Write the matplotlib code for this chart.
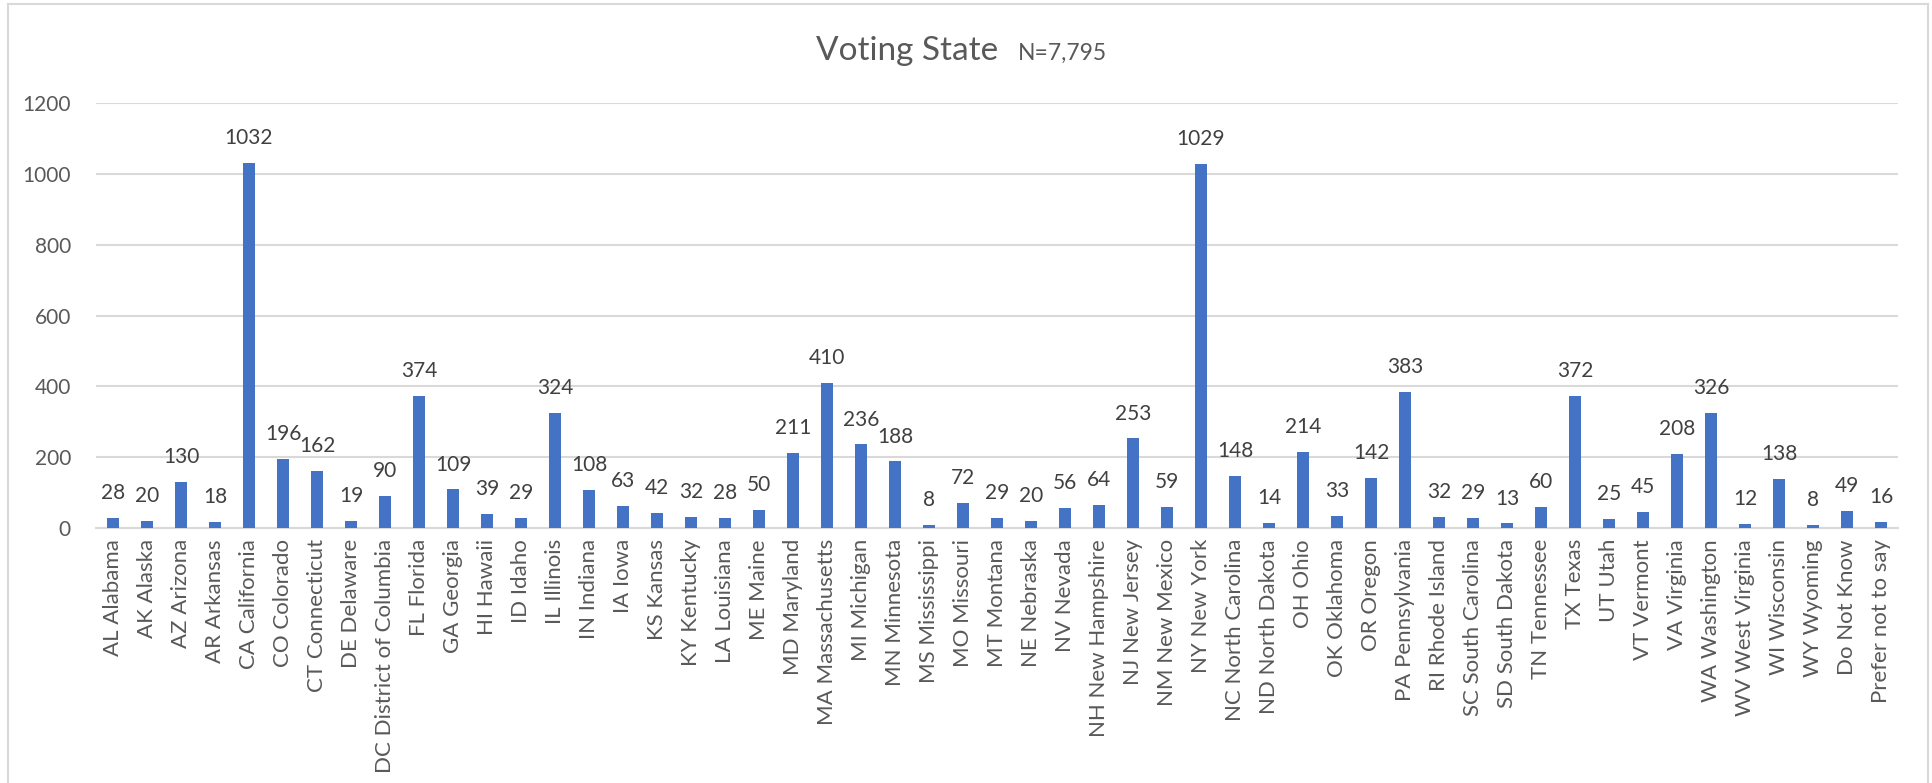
import matplotlib.pyplot as plt
import numpy as np

plt.rcParams['font.family'] = ['Lato', 'DejaVu Sans']

states = ['AL Alabama', 'AK Alaska', 'AZ Arizona', 'AR Arkansas', 'CA California',
          'CO Colorado', 'CT Connecticut', 'DE Delaware', 'DC District of Columbia',
          'FL Florida', 'GA Georgia', 'HI Hawaii', 'ID Idaho', 'IL Illinois',
          'IN Indiana', 'IA Iowa', 'KS Kansas', 'KY Kentucky', 'LA Louisiana',
          'ME Maine', 'MD Maryland', 'MA Massachusetts', 'MI Michigan',
          'MN Minnesota', 'MS Mississippi', 'MO Missouri', 'MT Montana',
          'NE Nebraska', 'NV Nevada', 'NH New Hampshire', 'NJ New Jersey',
          'NM New Mexico', 'NY New York', 'NC North Carolina', 'ND North Dakota',
          'OH Ohio', 'OK Oklahoma', 'OR Oregon', 'PA Pennsylvania',
          'RI Rhode Island', 'SC South Carolina', 'SD South Dakota',
          'TN Tennessee', 'TX Texas', 'UT Utah', 'VT Vermont', 'VA Virginia',
          'WA Washington', 'WV West Virginia', 'WI Wisconsin', 'WY Wyoming',
          'Do Not Know', 'Prefer not to say']
counts = [28, 20, 130, 18, 1032, 196, 162, 19, 90, 374, 109, 39, 29, 324, 108,
          63, 42, 32, 28, 50, 211, 410, 236, 188, 8, 72, 29, 20, 56, 64, 253,
          59, 1029, 148, 14, 214, 33, 142, 383, 32, 29, 13, 60, 372, 25, 45,
          208, 326, 12, 138, 8, 49, 16]
yticks = [0, 200, 400, 600, 800, 1000, 1200]

W, H = 1933, 783
fig = plt.figure(figsize=(W / 100, H / 100), dpi=100)
ax = fig.add_axes([96 / W, 1 - 528 / H, (1898 - 96) / W, (528 - 103) / H])

x = np.arange(len(states))
ax.bar(x, counts, width=0.33, color='#4472C4', zorder=3)
for xi, v in zip(x, counts):
    ax.text(xi, v + 42, str(v), ha='center', va='bottom', fontsize=15,
            color='#404040')

ax.set_xlim(-0.5, len(states) - 0.5)
ax.set_ylim(0, 1200)
ax.set_yticks(yticks)
ax.set_yticklabels([str(t) for t in yticks], fontsize=15, color='#595959')
ax.set_xticks(x)
ax.set_xticklabels(states, rotation=90, fontsize=16, color='#595959')
ax.tick_params(axis='both', length=0)
ax.tick_params(axis='x', pad=8)
ax.tick_params(axis='y', pad=18)
ax.grid(axis='y', color='#D9D9D9', linewidth=1.5, zorder=0)
for s in ['top', 'right', 'left']:
    ax.spines[s].set_visible(False)
ax.spines['bottom'].set_color('#D9D9D9')
ax.spines['bottom'].set_linewidth(1.5)

# title
fig.text(998 / W, 1 - 60 / H, 'Voting State', ha='right', va='baseline',
         fontsize=24, color='#595959')
fig.text(1018 / W, 1 - 60 / H, 'N=7,795', ha='left', va='baseline',
         fontsize=16.5, color='#595959')

# chart frame
fc = '#D9D9D9'
fig.add_artist(plt.Line2D([8 / W, 1928 / W], [1 - 4 / H, 1 - 4 / H], color=fc, lw=1.5))
fig.add_artist(plt.Line2D([8 / W, 8 / W], [0, 1 - 4 / H], color=fc, lw=1.5))
fig.add_artist(plt.Line2D([1928 / W, 1928 / W], [0, 1 - 4 / H], color=fc, lw=1.5))

fig.savefig('out.png', dpi=100, facecolor='white')
